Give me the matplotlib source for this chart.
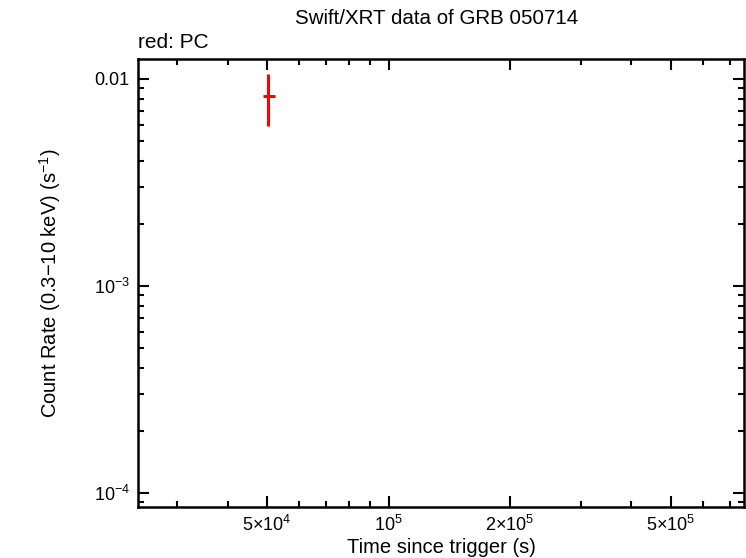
import matplotlib
matplotlib.use("Agg")
import matplotlib.pyplot as plt
from matplotlib.ticker import FixedLocator, NullFormatter, LogLocator

plt.rcParams['font.family'] = ['Liberation Sans', 'DejaVu Sans']
plt.rcParams['mathtext.fontset'] = 'custom'
plt.rcParams['mathtext.rm'] = 'Liberation Sans'
plt.rcParams['mathtext.it'] = 'Liberation Sans:italic'

# Data (PC mode)
time = [5.04e4]
time_err_lo = [0.153e4]
time_err_hi = [0.194e4]
rate = [8.28e-3]
rate_err_lo = [2.33e-3]
rate_err_hi = [2.29e-3]

xticks = [5e4, 1e5, 2e5, 5e5]
xticklabels = [r'5$\times$10$^{4}$', r'10$^{5}$', r'2$\times$10$^{5}$', r'5$\times$10$^{5}$']
yticks = [1e-4, 1e-3, 1e-2]
yticklabels = [r'10$^{-4}$', r'10$^{-3}$', '0.01']

fig = plt.figure(figsize=(7.46, 5.58), dpi=100)
ax = fig.add_axes([138/746, 1-507/558, (744-138)/746, (507-59)/558])

ax.errorbar(time, rate, xerr=[time_err_lo, time_err_hi], yerr=[rate_err_lo, rate_err_hi],
            fmt='none', ecolor='#ff0000', elinewidth=2.2, capsize=0)

ax.set_xscale('log')
ax.set_yscale('log')
ax.set_xlim(2.395e4, 7.6e5)
ax.set_ylim(8.56e-5, 1.249e-2)

ax.xaxis.set_major_locator(FixedLocator(xticks))
ax.set_xticklabels(xticklabels)
ax.yaxis.set_major_locator(FixedLocator(yticks))
ax.set_yticklabels(yticklabels)
ax.xaxis.set_minor_locator(LogLocator(base=10, subs=range(1, 10)))
ax.yaxis.set_minor_locator(LogLocator(base=10, subs=range(1, 10)))
ax.xaxis.set_minor_formatter(NullFormatter())
ax.yaxis.set_minor_formatter(NullFormatter())

ax.tick_params(which='both', direction='in', top=True, right=True, labelsize=13, width=1.5)
ax.tick_params(which='major', length=8, pad=6)
ax.tick_params(which='minor', length=4)
for s in ax.spines.values():
    s.set_linewidth(1.8)

ax.set_xlabel('Time since trigger (s)', fontsize=14.5, labelpad=2)
ax.set_ylabel(r'Count Rate (0.3$-$10 keV) (s$^{-1}$)', fontsize=14.5, labelpad=22)
fig.text(437/746, 1-18/558, 'Swift/XRT data of GRB 050714', ha='center', va='center', fontsize=14.8)
fig.text(138/746, 1-42/558, 'red: PC', ha='left', va='center', fontsize=15)

fig.savefig('out.png', dpi=100)
